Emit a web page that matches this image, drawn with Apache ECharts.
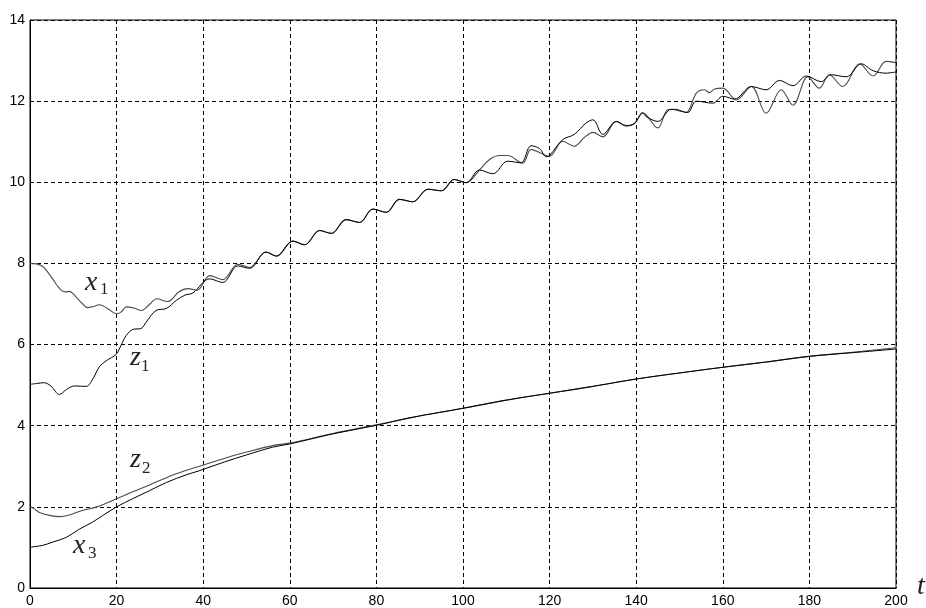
<!DOCTYPE html>
<html>
<head>
<meta charset="utf-8">
<script src="https://cdn.jsdelivr.net/npm/echarts@6/dist/echarts.min.js"></script>
<style>
html,body{margin:0;padding:0;background:#fff;}
#chart{width:926px;height:608px;}
</style>
</head>
<body>
<div id="chart"></div>
<script>
// ---- data ----
var xTicks = [0, 20, 40, 60, 80, 100, 120, 140, 160, 180, 200];
var yTicks = [0, 2, 4, 6, 8, 10, 12, 14];

var x1T = [0, 1.5, 2.9, 4, 5.2, 6.3, 7.3, 8.2, 9.1, 10, 11, 12.2, 13.3, 14.7, 16, 17.9, 20, 21, 22.3, 24, 25.7, 27.5, 29.3, 31.8, 34.4, 36.5, 38.6,
  41.5, 44.5, 48.0, 50.7, 54.5, 56.9, 60.7, 63.4, 66.9, 69.6, 73.0, 76.1, 79.2, 82.3, 85.3, 88.4, 91.9, 95.0, 98.0, 100.7,
  103.8, 106, 108.4, 110.3, 113.8, 115.7, 117.7, 120, 123, 125.7, 128, 130, 132.3, 135.4, 137.7, 139.6, 141.5, 145, 147.3, 149.2, 151.5,
  153.9, 155.8, 156.9, 158.1, 160, 163.1, 166.6, 170, 173.5, 176.2, 179.6, 182.3, 184.6, 187.7, 191.6, 194.7, 197.7, 200];
var x1V = [8.0, 7.99, 7.93, 7.8, 7.62, 7.45, 7.33, 7.3, 7.31, 7.25, 7.13, 7.0, 6.91, 6.94, 6.98, 6.89, 6.76, 6.8, 6.93, 6.9, 6.84, 6.98, 7.13, 7.06, 7.3, 7.38, 7.34,
  7.7, 7.6, 7.98, 7.9, 8.28, 8.18, 8.55, 8.46, 8.81, 8.74, 9.08, 9.01, 9.34, 9.26, 9.58, 9.52, 9.83, 9.79, 10.07, 9.99,
  10.3, 10.55, 10.66, 10.66, 10.47, 10.81, 10.73, 10.64, 11.01, 10.89, 11.1, 11.23, 11.12, 11.5, 11.38, 11.45, 11.71, 11.34, 11.79, 11.8, 11.72,
  12.2, 12.28, 12.21, 12.3, 12.32, 12.03, 12.36, 11.7, 12.28, 11.9, 12.6, 12.32, 12.65, 12.36, 12.92, 12.62, 12.98, 12.95];

var z1T = [0, 1.5, 3.3, 4.9, 6.8, 8.4, 10.3, 13, 14.5, 16, 17.6, 19.9, 21.1, 22.2, 23.7, 25.7, 26.8, 29.1, 31.5, 33.8, 35.8, 37.6,
  41.5, 44.5, 48.0, 50.7, 54.5, 56.9, 60.7, 63.4, 66.9, 69.6, 73.0, 76.1, 79.2, 82.3, 85.3, 88.4, 91.9, 95.0, 98.0, 100.7,
  103.8, 106.9, 110.3, 113.4, 115.7, 117.7, 119.2, 120, 123, 125.7, 128.4, 130, 132.3, 135.4, 137.7, 139.6, 141.5, 142.3, 145, 148.1, 150.4, 151.9,
  153.9, 157.7, 160, 162.7, 166.6, 170, 173.1, 176.2, 179.3, 182.7, 185, 188.5, 192, 194.7, 197.7, 200];
var z1V = [5.02, 5.04, 5.06, 4.97, 4.77, 4.89, 4.98, 4.97, 5.15, 5.45, 5.6, 5.76, 6.0, 6.22, 6.37, 6.4, 6.55, 6.84, 6.89, 7.09, 7.22, 7.27,
  7.62, 7.53, 7.94, 7.88, 8.28, 8.18, 8.55, 8.46, 8.81, 8.74, 9.08, 9.01, 9.34, 9.26, 9.58, 9.52, 9.83, 9.79, 10.07, 9.99,
  10.3, 10.21, 10.52, 10.48, 10.9, 10.83, 10.63, 10.66, 11.05, 11.18, 11.46, 11.54, 11.18, 11.5, 11.4, 11.45, 11.71, 11.62, 11.5, 11.8, 11.75, 11.72,
  12.0, 11.95, 12.12, 12.05, 12.36, 12.28, 12.51, 12.38, 12.62, 12.48, 12.65, 12.6, 12.92, 12.75, 12.69, 12.72];

var z2T = [0, 1, 2.2, 4.5, 6.8, 9.1, 12.1, 15.4, 20, 23.7, 27.6, 31.5, 36.1, 39.1, 45, 50, 56, 60, 70, 80, 88, 100, 110, 120, 130, 140, 150, 160, 170, 180, 190, 200];
var z2V = [2.0, 1.95, 1.86, 1.79, 1.76, 1.8, 1.91, 2.0, 2.2, 2.37, 2.54, 2.72, 2.9, 3.0, 3.2, 3.35, 3.51, 3.57, 3.81, 4.02, 4.2, 4.43, 4.63, 4.8, 4.97, 5.15, 5.3, 5.44, 5.57, 5.71, 5.81, 5.92];

var x3T = [0, 1, 2.9, 5.2, 8.4, 11.4, 14.4, 17, 20, 23.7, 27.6, 31.5, 36.1, 39.1, 45, 50, 56, 60, 70, 80, 88, 100, 110, 120, 130, 140, 150, 160, 170, 180, 190, 200];
var x3V = [1.0, 1.02, 1.05, 1.13, 1.25, 1.45, 1.62, 1.8, 2.0, 2.2, 2.4, 2.6, 2.79, 2.89, 3.11, 3.28, 3.47, 3.55, 3.8, 4.01, 4.2, 4.43, 4.63, 4.8, 4.97, 5.15, 5.3, 5.44, 5.57, 5.71, 5.8, 5.89];

function pairs(t, v) { return t.map(function (x, i) { return [x, v[i]]; }); }

var chart = echarts.init(document.getElementById('chart'), null, {renderer: 'canvas'});
var tickFont = {color: '#000', fontFamily: 'Liberation Sans Narrow, Liberation Sans, Arial, sans-serif', fontSize: 14};
var gridLine = {show: true, lineStyle: {color: '#000', type: [4, 3], width: 1}};
var serif = 'Liberation Serif, Times New Roman, serif';

function lbl(txt, left, y, size, italic) {
  return {type: 'text', left: left, top: y - size / 2, z: 100,
    style: {text: txt, font: (italic ? 'italic ' : '') + size + 'px ' + serif, fill: '#222'}};
}

chart.setOption({
  animation: false,
  backgroundColor: '#fff',
  grid: {left: 30, right: 30, top: 20, bottom: 17, show: true, borderColor: '#000', borderWidth: 1, backgroundColor: 'transparent'},
  xAxis: {type: 'value', min: 0, max: 200, interval: 20,
    axisLine: {show: true, lineStyle: {color: '#000'}}, axisTick: {show: false},
    axisLabel: Object.assign({margin: 6, formatter: function (v) { return xTicks.indexOf(v) >= 0 ? String(v) : ''; }}, tickFont),
    splitLine: gridLine},
  yAxis: {type: 'value', min: 0, max: 14, interval: 2,
    axisLine: {show: true, lineStyle: {color: '#000'}}, axisTick: {show: false},
    axisLabel: Object.assign({margin: 5, formatter: function (v) { return yTicks.indexOf(v) >= 0 ? String(v) : ''; }}, tickFont),
    splitLine: gridLine},
  series: [
    {name: 'x1', type: 'line', data: pairs(x1T, x1V), showSymbol: false, smooth: 0.35, lineStyle: {color: '#4a4a4a', width: 1.1}},
    {name: 'z1', type: 'line', data: pairs(z1T, z1V), showSymbol: false, smooth: 0.35, lineStyle: {color: '#000', width: 1}},
    {name: 'z2', type: 'line', data: pairs(z2T, z2V), showSymbol: false, smooth: 0.35, lineStyle: {color: '#4a4a4a', width: 1.1}},
    {name: 'x3', type: 'line', data: pairs(x3T, x3V), showSymbol: false, smooth: 0.35, lineStyle: {color: '#000', width: 1}}
  ],
  graphic: [
    lbl('x', 85, 283, 28, true), lbl('1', 100, 290, 17, false),
    lbl('z', 130, 358, 28, true), lbl('1', 141, 367, 17, false),
    lbl('z', 130, 460, 28, true), lbl('2', 142, 469, 17, false),
    lbl('x', 73, 546, 28, true), lbl('3', 88, 554, 17, false),
    lbl('t', 917, 587, 28, true)
  ]
});
</script>
</body>
</html>
